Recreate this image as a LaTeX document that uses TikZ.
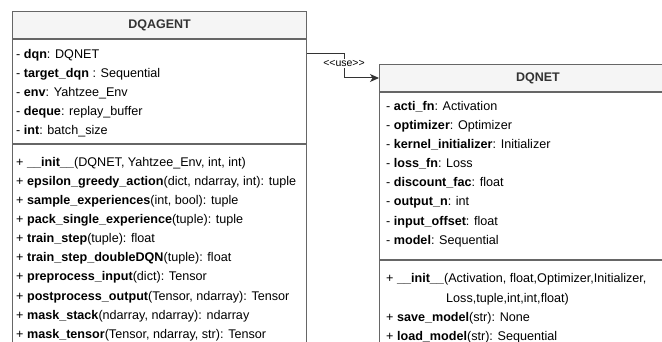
\documentclass[tikz,border=0pt]{standalone}
\usepackage{fontspec}
\setmainfont{Liberation Sans}
\newfontfamily\labelfont{Liberation Sans}
\usepackage{tikz}
\usetikzlibrary{arrows.meta, positioning}
\definecolor{headgray}{HTML}{F5F5F5}
\definecolor{bordergray}{HTML}{666666}
\definecolor{titlegray}{HTML}{333333}
\definecolor{linkgray}{HTML}{333333}

\begin{document}
\begin{tikzpicture}[
        x=1pt, y=-1pt,
        header/.style={rectangle, draw=bordergray, fill=headgray, minimum height=27pt, inner sep=0pt, font=\fontsize{12.5}{15}\selectfont\bfseries, text=titlegray, line width=1pt},
        section/.style={rectangle, draw=bordergray, fill=white, inner sep=0pt, line width=1pt},
        member/.style={anchor=base west, inner sep=0pt, font=\fontsize{12.6}{15}\selectfont},
        usearrow/.style={-{Stealth[length=9pt, width=8pt, inset=2.5pt]}, line width=1pt, linkgray}
    ]
    \useasboundingbox (0,0) rectangle (662,342);
    \clip (0,0) rectangle (662,342);

    % DQAGENT class
    \node[header, anchor=north west, minimum width=294pt] (agenthead) at (12,11) {DQAGENT};
    \node[section, below=0pt of agenthead, minimum width=294pt, minimum height=104pt] (agentattr) {};
    \node[section, below=0pt of agentattr, minimum width=294pt, minimum height=230pt] (agentmeth) {};

    \foreach \txt [count=\i] in {
        {- \textbf{dqn}: DQNET},
        {- \textbf{target\_dqn} : Sequential},
        {- \textbf{env}: Yahtzee\_Env},
        {- \textbf{deque}: replay\_buffer},
        {- \textbf{int}: batch\_size}}
        \node[member] (agentvar\i) at (16,{58.5+19.1*(\i-1)}) {\txt};

    \foreach \txt [count=\i] in {
        {+ \textbf{\_\_init\_\_}(DQNET, Yahtzee\_Env, int, int)},
        {+ \textbf{epsilon\_greedy\_action}(dict, ndarray, int): tuple},
        {+ \textbf{sample\_experiences}(int, bool): tuple},
        {+ \textbf{pack\_single\_experience}(tuple): tuple},
        {+ \textbf{train\_step}(tuple): float},
        {+ \textbf{train\_step\_doubleDQN}(tuple): float},
        {+ \textbf{preprocess\_input}(dict): Tensor},
        {+ \textbf{postprocess\_output}(Tensor, ndarray): Tensor},
        {+ \textbf{mask\_stack}(ndarray, ndarray): ndarray},
        {+ \textbf{mask\_tensor}(Tensor, ndarray, str): Tensor}}
        \node[member] (agentfun\i) at (16,{166.3+19.1*(\i-1)}) {\txt};

    % DQNET class
    \node[header, anchor=north west, minimum width=317pt] (nethead) at (379,64) {DQNET};
    \node[section, below=0pt of nethead, minimum width=317pt, minimum height=167pt] (netattr) {};
    \node[section, below=0pt of netattr, minimum width=317pt, minimum height=120pt] (netmeth) {};

    \foreach \txt [count=\i] in {
        {- \textbf{acti\_fn}: Activation},
        {- \textbf{optimizer}: Optimizer},
        {- \textbf{kernel\_initializer}: Initializer},
        {- \textbf{loss\_fn}: Loss},
        {- \textbf{discount\_fac}: float},
        {- \textbf{output\_n}: int},
        {- \textbf{input\_offset}: float},
        {- \textbf{model}: Sequential}}
        \node[member] (netvar\i) at (386,{110.5+19.1*(\i-1)}) {\txt};

    \foreach \txt [count=\i] in {
        {+ \textbf{\_\_init\_\_}(Activation, float,Optimizer,Initializer,},
        {\hspace*{60pt}Loss,tuple,int,int,float)},
        {+ \textbf{save\_model}(str): None},
        {+ \textbf{load\_model}(str): Sequential}}
        \node[member] (netfun\i) at (386,{283+19.1*(\i-1)}) {\txt};

    % Arrows
    \draw[usearrow] ([yshift=-15pt]agentattr.north east) -- ++(37,0) |- (nethead.west)
        node[pos=0.2, fill=white, inner sep=1pt, font=\labelfont\fontsize{10.5}{13}\selectfont, text=black] (uselabel) {<<use>>};

    \end{tikzpicture}
\end{document}
